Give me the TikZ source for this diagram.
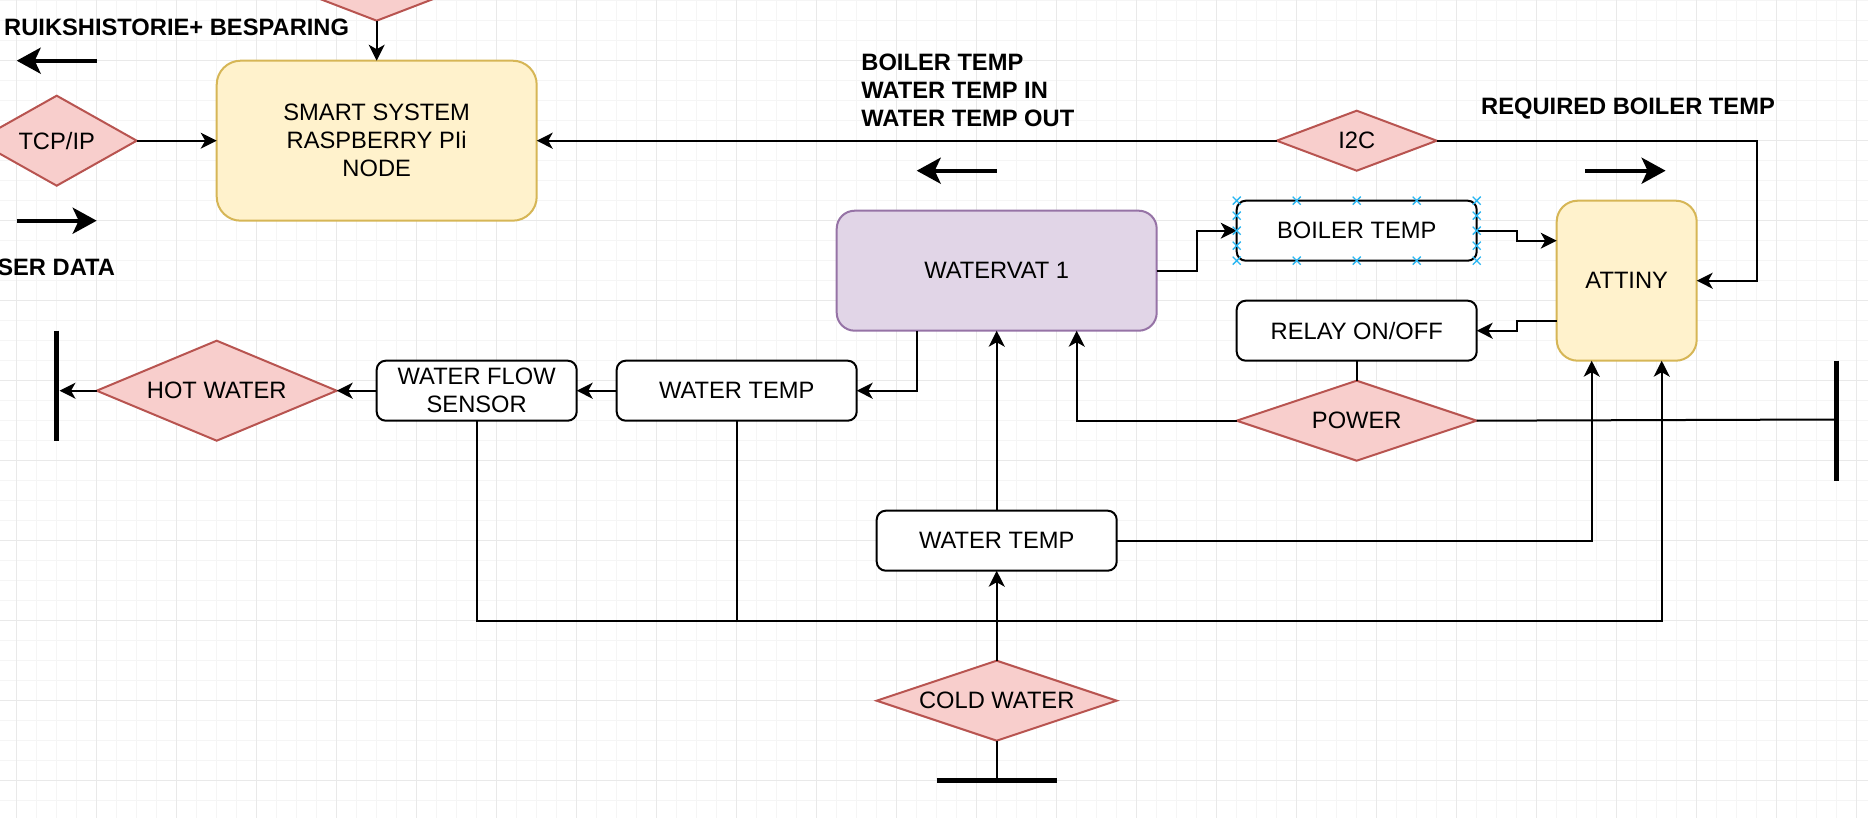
\documentclass[tikz,border=0pt]{standalone}
\usepackage{fontspec}
\setmainfont{Liberation Sans}
\usetikzlibrary{arrows.meta,shapes.geometric,calc}
\definecolor{yfill}{HTML}{FFF2CC}
\definecolor{ydraw}{HTML}{D6B656}
\definecolor{pfill}{HTML}{E1D5E7}
\definecolor{pdraw}{HTML}{9673A6}
\definecolor{rfill}{HTML}{F8CECC}
\definecolor{rdraw}{HTML}{B85450}
\definecolor{gridminor}{HTML}{F5F5F5}
\definecolor{gridmajor}{HTML}{E9E9E9}
\definecolor{selblue}{HTML}{29B6F2}
\begin{document}
\begin{tikzpicture}[x=1pt,y=-1pt,
  every node/.style={font=\fontsize{23.7}{28}\selectfont, inner sep=0pt, outer sep=0pt},
  box/.style={draw=black, fill=white, line width=2pt, rounded corners=9pt, minimum width=240pt, minimum height=60pt, align=center},
  ybox/.style={box, draw=ydraw, fill=yfill},
  pbox/.style={box, draw=pdraw, fill=pfill},
  dia/.style={shape=diamond, draw=rdraw, fill=rfill, line width=2pt},
  conn/.style={line width=2pt, -{Stealth[length=16pt,width=16pt,inset=4.5pt]}},
  plainline/.style={line width=2pt},
  termbar/.style={line width=5.5pt},
  lbl/.style={font=\bfseries\fontsize{23.7}{28}\selectfont},
  thickarrow/.style={line width=4pt, -{Stealth[length=24pt,width=26pt,inset=6pt]}},
  selmark/.style={draw=selblue, line width=1.3pt}
]
\useasboundingbox (0,0) rectangle (1868,818);
\clip (0,0) rectangle (1868,818);
\fill[white] (0,0) rectangle (1868,818);
% grid
\foreach \gx in {-3.3,16.7,...,1870} \draw[gridminor, line width=1.2pt] (\gx,0) -- (\gx,818);
\foreach \gy in {0.7,20.7,...,820} \draw[gridminor, line width=1.2pt] (0,\gy) -- (1868,\gy);
\foreach \gx in {16.7,96.7,...,1870} \draw[gridmajor, line width=1.4pt] (\gx,0) -- (\gx,818);
\foreach \gy in {60.7,140.7,...,820} \draw[gridmajor, line width=1.4pt] (0,\gy) -- (1868,\gy);

% nodes
\node[ybox, minimum width=320pt, minimum height=160pt, rounded corners=24pt] (smart) at (376.7,140.7) {SMART SYSTEM\\RASPBERRY PIi\\NODE};
\node[dia, minimum width=240pt, minimum height=92pt, aspect=2.6] (topd) at (376.7,-25.3) {};
\node[dia, minimum width=160pt, minimum height=90pt, aspect=1.78] (tcp) at (56.7,140.7) {TCP/IP};
\node[dia, minimum width=160pt, minimum height=60pt, aspect=2.67] (i2c) at (1356.7,140.7) {I2C};
\node[box] (boiler) at (1356.7,230.7) {BOILER TEMP};
\node[box] (relay) at (1356.7,330.7) {RELAY ON/OFF};
\node[ybox, minimum width=140pt, minimum height=160pt, rounded corners=21pt] (attiny) at (1626.7,280.7) {ATTINY};
\node[pbox, minimum width=320pt, minimum height=120pt, rounded corners=18pt] (watervat) at (996.7,270.7) {WATERVAT 1};
\node[dia, minimum width=240pt, minimum height=80pt, aspect=3] (power) at (1356.7,420.7) {POWER};
\node[dia, minimum width=240pt, minimum height=100pt, aspect=2.4] (hot) at (216.7,390.7) {HOT WATER};
\node[box, minimum width=200pt] (wfs) at (476.7,390.7) {WATER FLOW\\SENSOR};
\node[box] (wtempa) at (736.7,390.7) {WATER TEMP};
\node[box] (wtempb) at (996.7,540.7) {WATER TEMP};
\node[dia, minimum width=240pt, minimum height=80pt, aspect=3] (cold) at (996.7,700.7) {COLD WATER};

% terminals
\coordinate (hotEnd) at (59.5,390.7);
\draw[termbar] (56.7,330.7) -- (56.7,440.7);
\coordinate (pwrEnd) at (1834,419.5);
\draw[termbar] (1836.7,360.7) -- (1836.7,480.7);
\coordinate (coldEnd) at (996.7,778);
\draw[termbar] (936.7,780.7) -- (1056.7,780.7);

% labels
\node[lbl, anchor=base east] (histlbl) at (349,36) {RUIKSHISTORIE+ BESPARING};
\node[lbl, anchor=base east] (userlbl) at (115,276) {SER DATA};
\node[lbl, anchor=base] (reqlbl) at (1628,115) {REQUIRED BOILER TEMP};
\node[lbl, anchor=north west, align=left] (datalbl) at (861.4,54) {BOILER TEMP\\WATER TEMP IN\\WATER TEMP OUT};

% thick direction arrows
\coordinate (a1s) at (96.7,60.7); \coordinate (a1e) at (16.7,60.7);
\coordinate (a2s) at (16.7,220.7); \coordinate (a2e) at (96.7,220.7);
\coordinate (a3s) at (996.7,170.7); \coordinate (a3e) at (916.7,170.7);
\coordinate (a4s) at (1585.4,170.7); \coordinate (a4e) at (1665.6,170.7);
\draw[thickarrow] (a1s) -- (a1e);
\draw[thickarrow] (a2s) -- (a2e);
\draw[thickarrow] (a3s) -- (a3e);
\draw[thickarrow] (a4s) -- (a4e);

% connectors
\draw[conn] (topd.south) -- (smart.north);
\draw[conn] (tcp.east) -- (smart.west);
\draw[conn] (i2c.west) -- (smart.east);
\draw[conn] (i2c.east) -- ++(320,0) |- (attiny.east);
\draw[conn] (watervat.east) -- ++(40,0) |- (boiler.west);
\draw[conn] (boiler.east) -- ++(40,0) |- ([yshift=40pt]attiny.west);
\draw[conn] ([yshift=-40pt]attiny.west) -- ++(-40,0) |- (relay.east);
\draw[plainline] (relay.south) -- (power.north);
\draw[conn] (power.west) -| ([xshift=80pt]watervat.south);
\draw[plainline] (power.east) -- (pwrEnd);
\draw[conn] ([xshift=-80pt]watervat.south) |- (wtempa.east);
\draw[conn] (wtempa.west) -- (wfs.east);
\draw[conn] (wfs.west) -- (hot.east);
\draw[conn] (hot.west) -- (hotEnd);
\draw[conn] (wfs.south) -- ++(0,200) -| ([xshift=35pt]attiny.south);
\draw[plainline] (wtempa.south) -- ++(0,200);
\draw[conn] (cold.north) -- (wtempb.south);
\draw[conn] (wtempb.north) -- (watervat.south);
\draw[conn] (wtempb.east) -| ([xshift=-35pt]attiny.south);
\draw[plainline] (cold.south) -- (coldEnd);

% selection markers on BOILER TEMP
\foreach \mx in {1236.7,1296.7,1356.7,1416.7,1476.7} {
  \foreach \my in {200.7,260.7} {
    \draw[selmark] (\mx-4,\my-4) -- (\mx+4,\my+4) (\mx-4,\my+4) -- (\mx+4,\my-4);
  }
}
\foreach \mx in {1236.7,1476.7} {
  \foreach \my in {215.7,230.7,245.7} {
    \draw[selmark] (\mx-4,\my-4) -- (\mx+4,\my+4) (\mx-4,\my+4) -- (\mx+4,\my-4);
  }
}
\end{tikzpicture}
\end{document}
